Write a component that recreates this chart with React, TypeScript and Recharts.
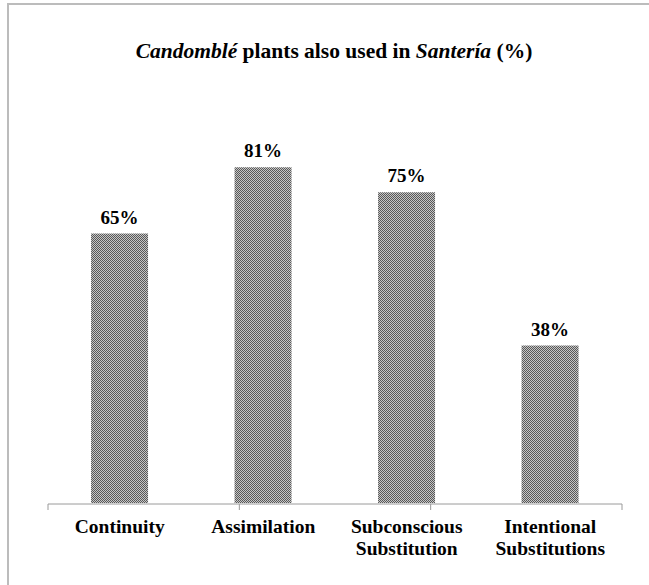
import { BarChart, Bar, XAxis, YAxis, LabelList } from 'recharts'

const categories = ['Continuity', 'Assimilation', 'Subconscious\nSubstitution', 'Intentional\nSubstitutions']
const shares = [65, 81, 75, 38]
const edgeTicks = [0, 1, 2, 3, 4]

const data = categories.map((category, i) => ({ category, share: shares[i] }))

const SERIF = '"Liberation Serif", "Times New Roman", serif'

function CategoryTick({ x, y, payload }: any) {
  const lines = String(payload.value).split('\n')
  return (
    <text x={x} y={y} textAnchor="middle" style={{ fontFamily: SERIF }} fontWeight="bold" fontSize={19.5} fill="#000">
      {lines.map((line, i) => (
        <tspan key={i} x={x} dy={i === 0 ? 30 : 22}>
          {line}
        </tspan>
      ))}
    </text>
  )
}

export default function App() {
  return (
    <div style={{ position: 'absolute', left: 0, top: 0, width: 649, height: 585, background: '#fff', overflow: 'hidden' }}>
      <div
        style={{
          position: 'absolute',
          left: 7,
          top: 3,
          width: 700,
          height: 700,
          borderLeft: '2px solid #bcbcbc',
          borderTop: '2px solid #bcbcbc',
        }}
      />
      <div
        style={{
          position: 'absolute',
          left: 0,
          top: 41,
          width: 668,
          textAlign: 'center',
          fontFamily: SERIF,
          fontWeight: 'bold',
          fontSize: 21.5,
          lineHeight: '20px',
          color: '#000',
        }}
      >
        <i>Candomblé</i> plants also used in <i>Santería</i> (%)
      </div>
      <div style={{ position: 'absolute', left: 0, top: 0 }}>
        <BarChart
          width={649}
          height={585}
          data={data}
          margin={{ top: 130, right: 27, bottom: 80, left: 48 }}
          barCategoryGap="30%"
        >
          <defs>
            <pattern id="checker" width="2" height="2" patternUnits="userSpaceOnUse">
              <rect width="2" height="2" fill="#c6c6c6" />
              <rect width="1" height="1" fill="#585858" />
              <rect x="1" y="1" width="1" height="1" fill="#585858" />
            </pattern>
          </defs>
          <YAxis hide domain={[0, 90]} />
          <XAxis
            xAxisId="edges"
            type="number"
            domain={[0, categories.length]}
            ticks={edgeTicks}
            allowDataOverflow
            height={1}
            tickSize={6}
            tickFormatter={() => ''}
            stroke="#9a9a9a"
          />
          <XAxis
            xAxisId="cat"
            dataKey="category"
            height={1}
            axisLine={false}
            tickLine={false}
            tickSize={0}
            tickMargin={0}
            interval={0}
            tick={<CategoryTick />}
          />
          <Bar dataKey="share" xAxisId="cat" fill="url(#checker)" isAnimationActive={false}>
            <LabelList
              dataKey="share"
              position="top"
              offset={10}
              formatter={(v: any) => `${v}%`}
              style={{ fontFamily: SERIF }}
              fontWeight="bold"
              fontSize={19}
              fill="#000"
            />
          </Bar>
        </BarChart>
      </div>
    </div>
  )
}
